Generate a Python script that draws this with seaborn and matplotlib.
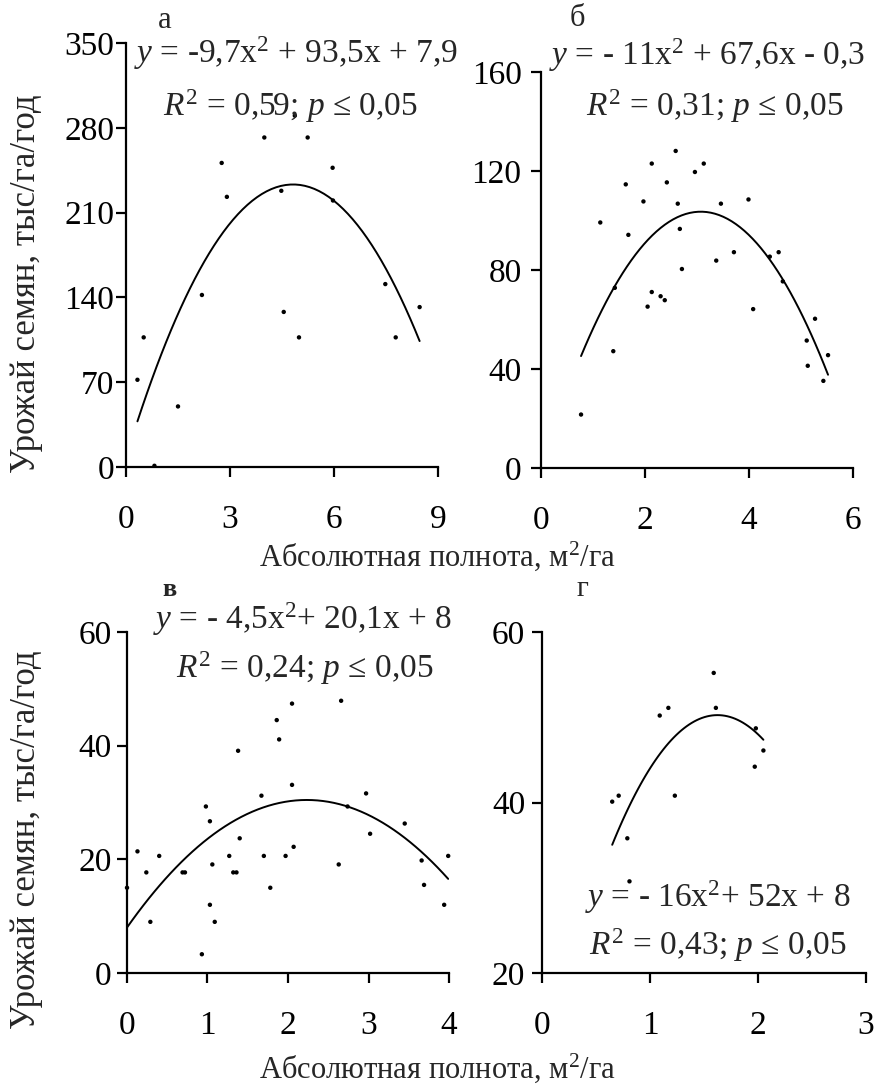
import numpy as np
import pandas as pd
import matplotlib
matplotlib.use("Agg")
import matplotlib.pyplot as plt
import seaborn as sns

sns.set_style("ticks")
plt.rcParams['font.family'] = ['Liberation Serif', 'DejaVu Serif']
plt.rcParams['mathtext.fontset'] = 'custom'
plt.rcParams['mathtext.rm'] = 'Liberation Serif'
plt.rcParams['mathtext.it'] = 'Liberation Serif:italic'

# --- data ---
a_x = [0.33, 0.51, 0.82, 1.50, 2.19, 2.76, 2.91, 3.99, 4.48, 4.55, 4.87, 4.99,
       5.24, 5.96, 5.97, 7.48, 7.78, 8.47]
a_y = [72, 107, 1, 50, 142, 251, 223, 272, 228, 128, 290, 107,
       272, 247, 220, 151, 107, 132]
a_coef = [-9.7, 93.5, 7.9]

b_x = [0.77, 1.14, 1.39, 1.42, 1.63, 1.68, 1.97, 2.05, 2.13, 2.13, 2.30, 2.38,
       2.42, 2.59, 2.63, 2.67, 2.71, 2.96, 3.13, 3.37, 3.46, 3.71, 3.99, 4.08,
       4.40, 4.57, 4.65, 5.11, 5.13, 5.27, 5.43, 5.52]
b_y = [21.6, 99.2, 47.2, 72.8, 114.6, 94.2, 107.7, 65.2, 123, 71.1, 69.4, 67.8,
       115.4, 128.1, 106.8, 96.6, 80.4, 119.6, 123, 83.8, 106.8, 87.2, 108.5, 64.2,
       85.4, 87.2, 75.4, 51.5, 41.3, 60.3, 35.2, 45.6]
b_coef = [-11, 67.6, -0.3]

c_x = [0.0, 0.13, 0.24, 0.29, 0.40, 0.69, 0.72, 0.93, 0.98, 1.03, 1.03, 1.06,
       1.09, 1.27, 1.32, 1.36, 1.38, 1.40, 1.67, 1.70, 1.78, 1.86, 1.89, 1.97,
       2.05, 2.05, 2.07, 2.63, 2.66, 2.74, 2.97, 3.02, 3.45, 3.66, 3.69, 3.94, 3.99]
c_y = [15.0, 21.4, 17.7, 9.0, 20.6, 17.7, 17.7, 3.3, 29.3, 26.7, 12.0, 19.1,
       9.0, 20.6, 17.7, 17.7, 39.1, 23.7, 31.2, 20.6, 15.0, 44.5, 41.1, 20.6,
       47.4, 33.1, 22.2, 19.1, 47.9, 29.3, 31.6, 24.5, 26.3, 19.8, 15.5, 12.0, 20.6]
c_coef = [-4.5, 20.1, 8]

d_x = [0.65, 0.71, 0.79, 0.81, 1.09, 1.17, 1.23, 1.59, 1.61, 1.98, 1.97, 2.05]
d_y = [40.1, 40.8, 35.8, 30.75, 50.2, 51.1, 40.8, 55.2, 51.1, 48.7, 44.2, 46.1]
d_coef = [-16, 52, 8]

panels = [
    # data, coef, ylim, yticks, xlim, xticks, axes rect in px (left, top, right, bottom)
    (a_x, a_y, a_coef, (0, 350), [0, 70, 140, 210, 280, 350], (0, 9), [0, 3, 6, 9],
     (126, 43, 438, 467), 1.5),
    (b_x, b_y, b_coef, (0, 160), [0, 40, 80, 120, 160], (0, 6), [0, 2, 4, 6],
     (541, 72, 853, 468), 7),
    (c_x, c_y, c_coef, (0, 60), [0, 20, 40, 60], (0, 4), [0, 1, 2, 3, 4],
     (127, 632, 449, 973), 4),
    (d_x, d_y, d_coef, (20, 60), [20, 40, 60], (0, 3), [0, 1, 2, 3],
     (542, 632, 866, 973), 5),
]

W, H = 878, 1091
fig = plt.figure(figsize=(W / 100, H / 100), dpi=100, facecolor='white')

for xs, ys, coef, ylim, yticks, xlim, xticks, (l, t, r, b), ypad in panels:
    ax = fig.add_axes([l / W, 1 - b / H, (r - l) / W, (b - t) / H])
    df = pd.DataFrame({'x': xs, 'y': ys})
    fit = pd.DataFrame({'x': np.linspace(min(xs), max(xs), 60)})
    fit['y'] = np.polyval(coef, fit['x'])
    sns.scatterplot(data=df, x='x', y='y', ax=ax, color='black', s=10,
                    edgecolor='none', clip_on=False, zorder=3)
    sns.lineplot(data=fit, x='x', y='y', ax=ax, color='black', lw=1.4,
                 estimator=None, sort=True)
    ax.set_xlim(*xlim)
    ax.set_ylim(*ylim)
    ax.set_xticks(xticks)
    ax.set_yticks(yticks)
    ax.set_xlabel('')
    ax.set_ylabel('')
    sns.despine(ax=ax)
    for s in ('left', 'bottom'):
        ax.spines[s].set_linewidth(1.6)
        ax.spines[s].set_color('black')
    ax.tick_params(axis='both', labelsize=24, width=1.6, length=7, color='black',
                   labelcolor='black')
    ax.tick_params(axis='x', pad=20)
    ax.tick_params(axis='y', pad=ypad)
    ax.patch.set_alpha(0)


def ftext(px, py, s, **kw):
    fig.text(px / W, 1 - py / H, s, ha='center', va='center', **kw)


fs = 24
ftext(296, 53, r'$y$ = -9,7x$^2$ + 93,5x + 7,9', fontsize=fs)
ftext(290, 106, r'$R^2$ = 0,59; $p$ ≤ 0,05', fontsize=fs)
ftext(707, 55, r'$y$ = - 11x$^2$ + 67,6x - 0,3', fontsize=fs)
ftext(715, 106, r'$R^2$ = 0,31; $p$ ≤ 0,05', fontsize=fs)
ftext(302, 619, r'$y$ = - 4,5x$^2$+ 20,1x + 8', fontsize=fs)
ftext(305, 668, r'$R^2$ = 0,24; $p$ ≤ 0,05', fontsize=fs)
ftext(718, 897, r'$y$ = - 16x$^2$+ 52x + 8', fontsize=fs)
ftext(718, 945, r'$R^2$ = 0,43; $p$ ≤ 0,05', fontsize=fs)

ftext(165, 21, 'а', fontsize=22)
ftext(577, 19, 'б', fontsize=22)
ftext(169, 589, 'в', fontsize=19, fontweight='bold')
ftext(582, 589, 'г', fontsize=21)

ftext(437, 556, 'Абсолютная полнота, м$^2$/га', fontsize=22)
ftext(437, 1068, 'Абсолютная полнота, м$^2$/га', fontsize=22)
fig.text(27 / W, 1 - 284 / H, 'Урожай семян, тыс/га/год', rotation=90,
         ha='center', va='center', fontsize=25)
fig.text(27 / W, 1 - 840 / H, 'Урожай семян, тыс/га/год', rotation=90,
         ha='center', va='center', fontsize=25)

fig.savefig('out.png', dpi=100, facecolor='white')
plt.close(fig)
